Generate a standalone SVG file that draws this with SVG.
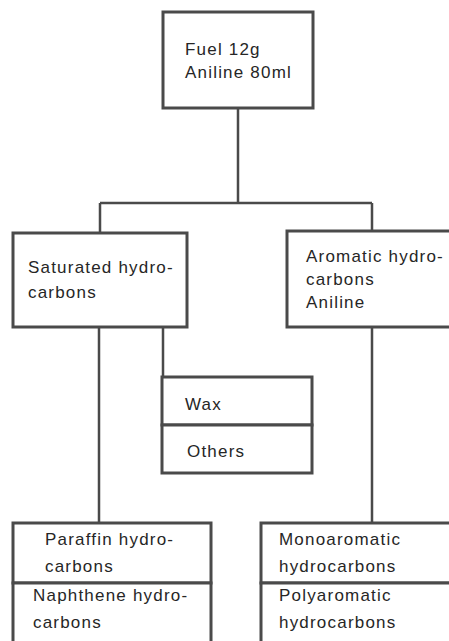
<svg xmlns="http://www.w3.org/2000/svg" width="449" height="641" viewBox="0 0 449 641">
<style>
.box{fill:#fff;stroke:#4a4a4a;stroke-width:3}
.ln{fill:none;stroke:#4a4a4a;stroke-width:2.5}
text{font-family:"Liberation Sans",Arial,sans-serif;font-size:17px;letter-spacing:1.2px;fill:#262626}
</style>
<rect width="449" height="641" fill="#fff"/>
<g id="connectors">
<path class="ln" d="M238,108 V203 M100,203 H372 M100,203 V233 M372,203 V231"/>
<path class="ln" d="M99,327 V523 M163,327 V377 M372,327 V523"/>
</g>
<g id="fuel">
<rect class="box" x="163" y="12" width="150" height="96"/>
<text x="185" y="55">Fuel 12g</text>
<text x="185" y="78">Aniline 80ml</text>
</g>
<g id="saturated">
<rect class="box" x="13" y="233" width="174" height="94"/>
<text x="28" y="273">Saturated hydro-</text>
<text x="28" y="298">carbons</text>
</g>
<g id="aromatic">
<rect class="box" x="287" y="231" width="170" height="96"/>
<text x="306" y="262">Aromatic hydro-</text>
<text x="306" y="285">carbons</text>
<text x="306" y="308">Aniline</text>
</g>
<g id="wax">
<rect class="box" x="162" y="377" width="150" height="48"/>
<text x="185" y="410">Wax</text>
</g>
<g id="others">
<rect class="box" x="162" y="425" width="150" height="48"/>
<text x="187" y="457">Others</text>
</g>
<g id="paraffin">
<rect class="box" x="13" y="523" width="198" height="60"/>
<text x="45" y="545">Paraffin hydro-</text>
<text x="45" y="572">carbons</text>
</g>
<g id="naphthene">
<rect class="box" x="13" y="583" width="198" height="70"/>
<text x="33" y="601">Naphthene hydro-</text>
<text x="33" y="628">carbons</text>
</g>
<g id="monoaromatic">
<rect class="box" x="261" y="523" width="200" height="60"/>
<text x="279" y="545">Monoaromatic</text>
<text x="279" y="572">hydrocarbons</text>
</g>
<g id="polyaromatic">
<rect class="box" x="261" y="583" width="200" height="70"/>
<text x="279" y="601">Polyaromatic</text>
<text x="279" y="628">hydrocarbons</text>
</g>
</svg>
